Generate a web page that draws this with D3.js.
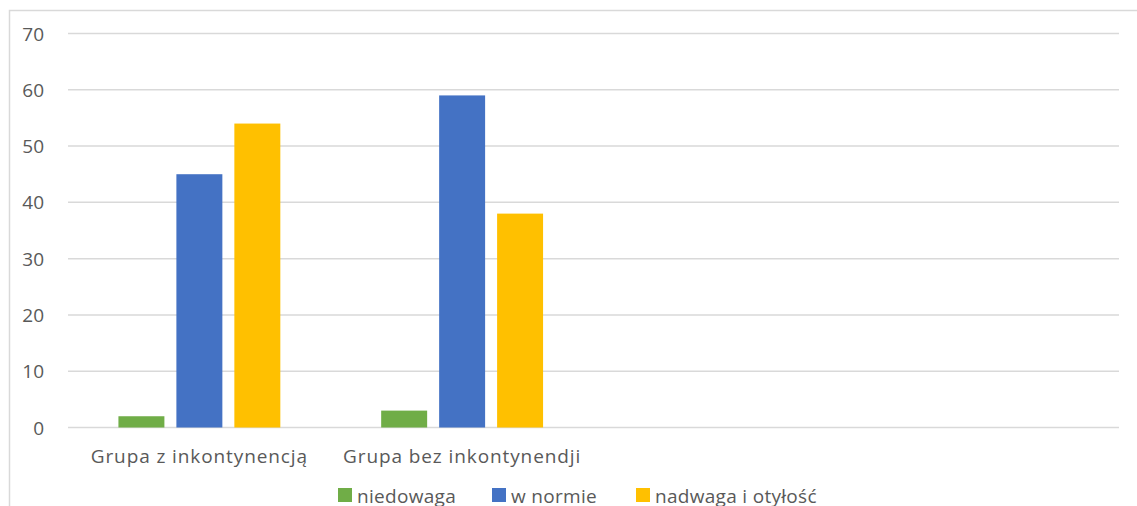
<!DOCTYPE html>
<html lang="pl">
<head>
<meta charset="utf-8">
<title>Grupy</title>
<script src="https://cdn.jsdelivr.net/npm/d3@7"></script>
<style>
body { margin: 0; background: #fff; }
text { font-family: "Open Sans", "Liberation Sans", sans-serif; fill: #595959; }
.grid line { stroke: #d9d9d9; stroke-width: 1.5px; }
</style>
</head>
<body>
<script>
// dane
var categories = ["Grupa z inkontynencją", "Grupa bez inkontynendji", "", ""];
var seriesNames = ["niedowaga", "w normie", "nadwaga i otyłość"];
var niedowaga = [2, 3, null, null];
var wNormie = [45, 59, null, null];
var nadwaga = [54, 38, null, null];
var yTicks = [0, 10, 20, 30, 40, 50, 60, 70];
var colors = ["#70ad47", "#4472c4", "#ffc000"];

var w = 1137, h = 506;
var pLeft = 68, pRight = 1119, pTop = 33.5, pBottom = 427.5;

var svg = d3.select("body").append("svg")
  .attr("width", w).attr("height", h);

// ramka
svg.append("path")
  .attr("d", "M9.5," + h + "V10.5H" + w)
  .attr("fill", "none").attr("stroke", "#d9d9d9").attr("stroke-width", 1.5);

var x0 = d3.scaleBand().domain(d3.range(categories.length)).range([pLeft, pRight]);
var x1 = d3.scaleBand().domain(d3.range(seriesNames.length))
  .range([0, x0.bandwidth()]).paddingInner(12 / 58).paddingOuter(0.87);
var y = d3.scaleLinear().domain([0, 70]).range([pBottom, pTop]);

// siatka
var grid = svg.append("g").attr("class", "grid");
grid.selectAll("line").data(yTicks).enter().append("line")
  .attr("x1", pLeft).attr("x2", pRight)
  .attr("y1", function(d){ return y(d); })
  .attr("y2", function(d){ return y(d); });

svg.selectAll(".ytick").data(yTicks).enter().append("text")
  .attr("class", "ytick")
  .attr("x", 44).attr("y", function(d){ return y(d) + 7; })
  .attr("text-anchor", "end")
  .style("font-size", "19px")
  .text(function(d){ return d; });

// słupki
var series = [niedowaga, wNormie, nadwaga];
series.forEach(function(vals, si){
  svg.append("g").selectAll("rect")
    .data(vals.map(function(v, i){ return {i: i, v: v}; }).filter(function(d){ return d.v != null; }))
    .enter().append("rect")
    .attr("x", function(d){ return x0(d.i) + x1(si); })
    .attr("width", x1.bandwidth())
    .attr("y", function(d){ return y(d.v); })
    .attr("height", function(d){ return y(0) - y(d.v); })
    .attr("fill", colors[si]);
});

// oś x
svg.selectAll(".xlab").data(categories).enter().append("text")
  .attr("class", "xlab")
  .attr("x", function(d, i){ return x0(i) + x0.bandwidth() / 2; })
  .attr("y", 463)
  .attr("text-anchor", "middle")
  .style("font-size", "19px")
  .style("letter-spacing", "0.9px")
  .text(function(d){ return d; });

// legenda
var legX = [338, 492, 636];
var leg = svg.selectAll(".leg").data(seriesNames).enter().append("g")
  .attr("class", "leg")
  .attr("transform", function(d, i){ return "translate(" + legX[i] + ",488)"; });
leg.append("rect").attr("width", 14).attr("height", 14)
  .attr("fill", function(d, i){ return colors[i]; });
leg.append("text").attr("x", 19).attr("y", 15)
  .style("font-size", "19px")
  .style("letter-spacing", "0.3px")
  .text(function(d){ return d; });
</script>
</body>
</html>
